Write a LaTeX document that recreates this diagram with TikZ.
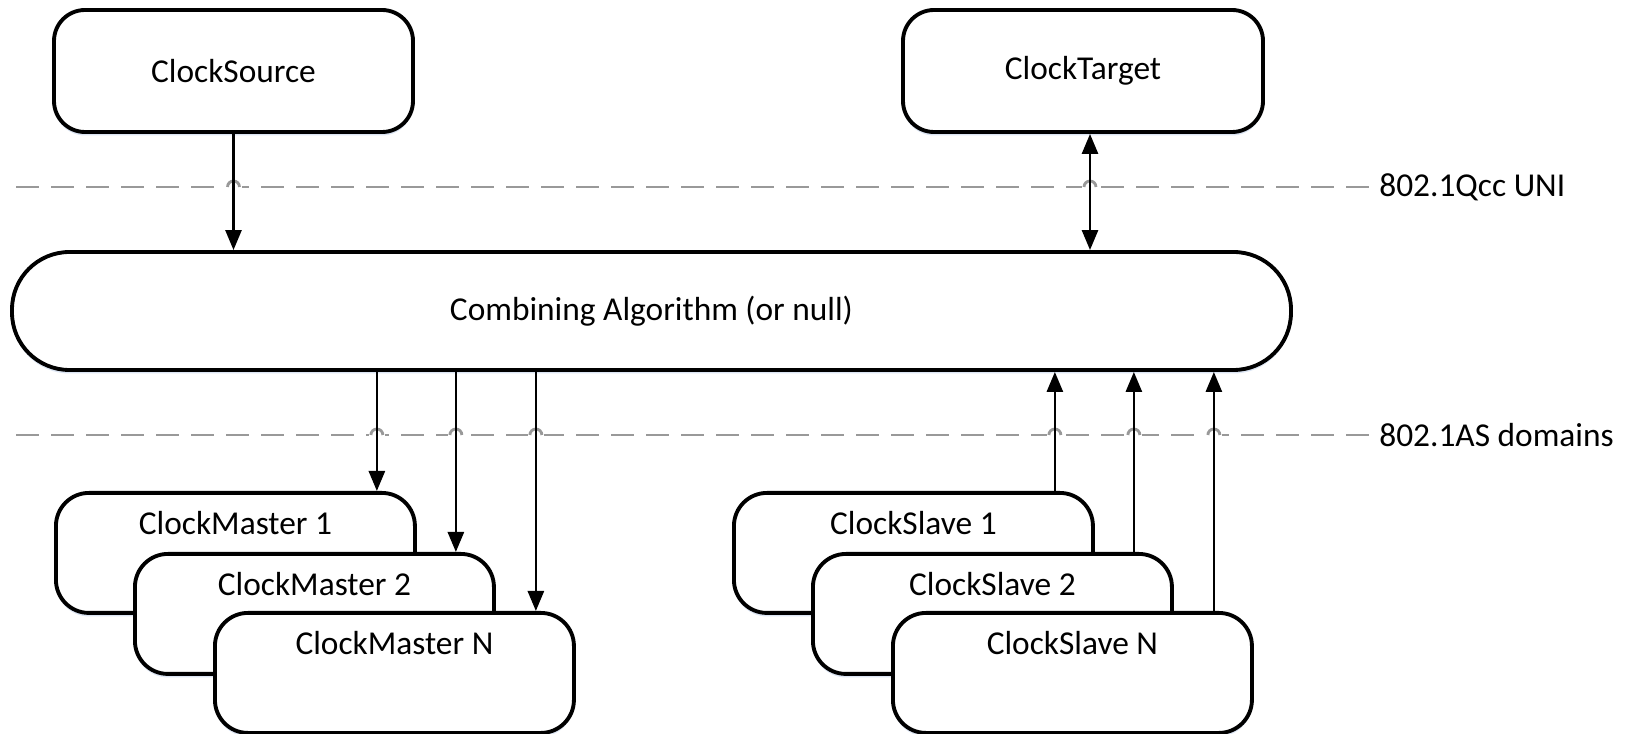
\documentclass[tikz,border=0pt]{standalone}
\usepackage{fontspec}
\setmainfont{Carlito}
\usetikzlibrary{arrows.meta, positioning, calc, shadows}
\tikzset{
	box/.style={rectangle, draw, line width=2.2pt, rounded corners=0.62cm, fill=white,
		minimum width=7.18cm, minimum height=2.44cm, font=\fontsize{19}{23}\selectfont,
		drop shadow={shadow xshift=0pt, shadow yshift=-0.07cm, fill={rgb,255:red,205;green,218;blue,238}, opacity=0.7}},
	stack/.style={box, minimum height=2.4cm, rounded corners=0.66cm, anchor=north west},
	widebox/.style={box, minimum width=25.58cm, minimum height=2.36cm, rounded corners=1.15cm},
	stxt/.style={font=\fontsize{19}{23}\selectfont, inner sep=0pt},
	lbl/.style={font=\fontsize{19}{23}\selectfont, inner sep=0pt, anchor=west},
	arr/.style={-{Triangle[length=0.4cm, width=0.32cm]}, line width=1.5pt},
	darr/.style={{Triangle[length=0.4cm, width=0.32cm]}-{Triangle[length=0.4cm, width=0.32cm]}, line width=1.5pt},
	sep/.style={draw=gray!80, line width=1.6pt, dash pattern=on 0.46cm off 0.24cm},
	hop/.pic={
		\fill[white] (-0.16,-0.06) rectangle (0.16,0.06);
		\draw[gray!80, line width=1.6pt] (-0.12,0) arc[start angle=180, end angle=0, radius=0.12];
	},
}

\begin{document}
\begin{tikzpicture}
	\useasboundingbox (0,0) rectangle (32.64,14.66);
	
	\node[box] (src) at (4.67,13.24) {ClockSource};
	\node[box, minimum width=7.2cm] (tgt) at (21.66,13.24) {ClockTarget};
	\node[widebox] (comb) at (13.03,8.44) {Combining Algorithm (or null)};
	
	% separator lines
	\coordinate (unil) at (0.32,10.92);
	\node[lbl] (uni) at (27.58,10.92) {802.1Qcc UNI};
	\draw[sep] (unil) -- ([xshift=-0.14cm]uni.west);
	\coordinate (asl) at (0.32,5.96);
	\node[lbl] (as) at (27.58,5.96) {802.1AS domains};
	\draw[sep] (asl) -- ([xshift=-0.14cm]as.west);
	
	% masters
	\node[stack] (cm1) at (1.08,4.84) {};
	\node[stxt] (cm1t) at ([yshift=-0.64cm]cm1.north) {ClockMaster 1};
	\node[stack] (cm2) at ([xshift=1.58cm, yshift=-1.22cm]cm1.north west) {};
	\node[stxt] (cm2t) at ([yshift=-0.64cm]cm2.north) {ClockMaster 2};
	\node[stack] (cmn) at ([xshift=1.6cm, yshift=-1.18cm]cm2.north west) {};
	\node[stxt] (cmnt) at ([yshift=-0.64cm]cmn.north) {ClockMaster N};
	
	% slaves
	\node[stack] (cs1) at (14.64,4.84) {};
	\node[stxt] (cs1t) at ([yshift=-0.64cm]cs1.north) {ClockSlave 1};
	\node[stack] (cs2) at ([xshift=1.58cm, yshift=-1.22cm]cs1.north west) {};
	\node[stxt] (cs2t) at ([yshift=-0.64cm]cs2.north) {ClockSlave 2};
	\node[stack] (csn) at ([xshift=1.6cm, yshift=-1.18cm]cs2.north west) {};
	\node[stxt] (csnt) at ([yshift=-0.64cm]csn.north) {ClockSlave N};
	
	% hops where lines cross
	\pic at (src.south |- unil) {hop};
	\pic at ([xshift=0.14cm]tgt.south |- unil) {hop};
	\pic at ([xshift=-0.8cm]cm1.north east |- asl) {hop};
	\pic at ([xshift=-0.8cm]cm2.north east |- asl) {hop};
	\pic at ([xshift=-0.8cm]cmn.north east |- asl) {hop};
	\pic at ([xshift=-0.8cm]cs1.north east |- asl) {hop};
	\pic at ([xshift=-0.8cm]cs2.north east |- asl) {hop};
	\pic at ([xshift=-0.8cm]csn.north east |- asl) {hop};
	
	\draw[arr] (src.south) -- (src.south |- comb.north);
	\draw[darr] ([xshift=0.14cm]tgt.south) -- ([xshift=0.14cm]tgt.south |- comb.north);
	
	\draw[arr] ([xshift=-0.8cm]cm1.north east |- comb.south) -- ([xshift=-0.8cm]cm1.north east);
	\draw[arr] ([xshift=-0.8cm]cm2.north east |- comb.south) -- ([xshift=-0.8cm]cm2.north east);
	\draw[arr] ([xshift=-0.8cm]cmn.north east |- comb.south) -- ([xshift=-0.8cm]cmn.north east);
	
	\draw[arr] ([xshift=-0.8cm]cs1.north east) -- ([xshift=-0.8cm]cs1.north east |- comb.south);
	\draw[arr] ([xshift=-0.8cm]cs2.north east) -- ([xshift=-0.8cm]cs2.north east |- comb.south);
	\draw[arr] ([xshift=-0.8cm]csn.north east) -- ([xshift=-0.8cm]csn.north east |- comb.south);
	
\end{tikzpicture}
\end{document}
